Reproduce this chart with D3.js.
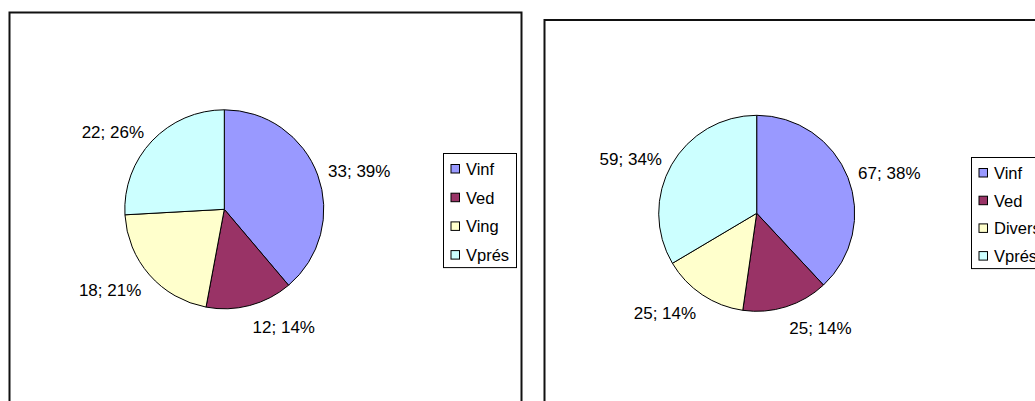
<!DOCTYPE html>
<html>
<head>
<meta charset="utf-8">
<script src="https://cdn.jsdelivr.net/npm/d3@7"></script>
<style>
  html, body { margin: 0; padding: 0; background: #fff; overflow: hidden; }
  svg { display: block; }
  text { font-family: "Liberation Sans", Arial, sans-serif; fill: #000; }
</style>
</head>
<body>
<svg id="chart" width="1035" height="401"></svg>
<script>
// Series for the two pies
const leftCategories = ["Vinf", "Ved", "Ving", "Vprés"];
const leftValues = [33, 12, 18, 22];
const rightCategories = ["Vinf", "Ved", "Divers", "Vprés"];
const rightValues = [67, 25, 25, 59];
const sliceColors = ["#9999FF", "#993366", "#FFFFCC", "#CCFFFF"];

const svg = d3.select("#chart");

const charts = [
  {
    categories: leftCategories, values: leftValues,
    frame: { x: 9.5, y: 12.5, w: 512, h: 420 },
    cx: 224.3, cy: 209.3, r: 99.5,
    legend: { x: 443.5, y: 153.5, w: 73, top: 169, step: 28.7 }
  },
  {
    categories: rightCategories, values: rightValues,
    frame: { x: 544.5, y: 20, w: 520, h: 420 },
    cx: 756.7, cy: 213.3, r: 98,
    legend: { x: 971.5, y: 157.5, w: 80, top: 173, step: 27.7 }
  }
];

charts.forEach(ch => {
  const g = svg.append("g");

  // chart area frame
  g.append("rect")
    .attr("x", ch.frame.x).attr("y", ch.frame.y)
    .attr("width", ch.frame.w).attr("height", ch.frame.h)
    .attr("fill", "#fff").attr("stroke", "#111").attr("stroke-width", 2);

  const total = d3.sum(ch.values);
  const pie = d3.pie().sort(null).value(d => d)
    .startAngle(0).endAngle(2 * Math.PI);
  const arcs = pie(ch.values);
  const arc = d3.arc().innerRadius(0).outerRadius(ch.r);

  const pg = g.append("g").attr("transform", `translate(${ch.cx},${ch.cy})`);
  pg.selectAll("path").data(arcs).join("path")
    .attr("d", arc)
    .attr("fill", (d, i) => sliceColors[i])
    .attr("stroke", "#000").attr("stroke-width", 1)
    .attr("stroke-linejoin", "round");

  // outside-end value labels: "value; percent"
  const labelRadius = ch.r + 11;
  pg.selectAll("text").data(arcs).join("text")
    .each(function (d) {
      const mid = (d.startAngle + d.endAngle) / 2;
      const s = Math.sin(mid), c = -Math.cos(mid);
      const px = labelRadius * s;
      const py = labelRadius * c + (c > 0 ? 10 * c : 4 * c) + 1;
      d3.select(this)
        .attr("x", px).attr("y", py)
        .attr("dy", "0.36em")
        .attr("text-anchor", s >= 0 ? "start" : "end");
    })
    .attr("font-size", 17)
    .text(d => `${d.data}; ${Math.round(d.data / total * 100)}%`);

  // legend
  const L = ch.legend;
  const n = ch.categories.length;
  const boxH = (L.top - L.y) + (n - 1) * L.step + 12.5;
  g.append("rect")
    .attr("x", L.x).attr("y", L.y)
    .attr("width", L.w).attr("height", boxH)
    .attr("fill", "#fff").attr("stroke", "#000").attr("stroke-width", 1);

  const items = g.selectAll("g.item").data(ch.categories).join("g")
    .attr("class", "item")
    .attr("transform", (d, i) => `translate(${L.x},${L.top + i * L.step})`);
  items.append("rect")
    .attr("x", 7.5).attr("y", -4.5).attr("width", 8.5).attr("height", 8.5)
    .attr("fill", (d, i) => sliceColors[i])
    .attr("stroke", "#000").attr("stroke-width", 1);
  items.append("text")
    .attr("x", 22.5).attr("y", 0).attr("dy", "0.36em")
    .attr("font-size", 16.5)
    .text(d => d);
});
</script>
</body>
</html>
